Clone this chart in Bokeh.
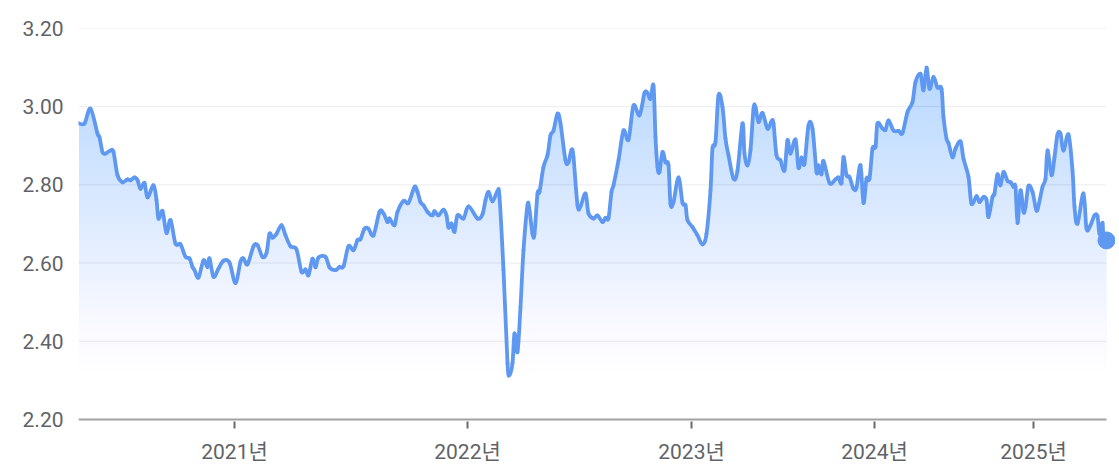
import numpy as np
from bokeh.plotting import figure
from bokeh.models import FixedTicker, Range1d, NumeralTickFormatter
from bokeh.embed import file_html
from bokeh.resources import INLINE

# observation index (trading sessions since start) and value
session = [0, 6, 12, 19, 21, 24, 27, 32, 35, 39, 44, 49, 52, 56, 59, 62, 66, 69, 75, 78,
           80, 84, 88, 92, 97, 102, 107, 111, 114, 116, 120, 125, 129, 131, 135, 140, 145, 151, 157, 162,
           165, 169, 175, 179, 184, 188, 191, 194, 198, 203, 207, 212, 218, 223, 227, 230, 234, 237, 240, 247,
           251, 257, 261, 265, 270, 275, 279, 282, 286, 290, 295, 301, 305, 309, 311, 316, 319, 325, 330, 336,
           339, 342, 345, 349, 354, 356, 360, 365, 368, 370, 373, 376, 379, 385, 390, 399, 404, 407, 410, 414,
           419, 421, 425, 429, 431, 434, 436, 439, 442, 445, 449, 451, 454, 456, 459, 461, 465, 469, 472, 475,
           479, 482, 487, 490, 493, 495, 499, 502, 507, 510, 515, 519, 524, 527, 530, 533, 535, 540, 545, 550,
           555, 561, 566, 569, 572, 575, 577, 579, 581, 584, 587, 590, 592, 595, 600, 604, 607, 609, 614, 619,
           624, 628, 632, 634, 637, 640, 644, 647, 650, 655, 659, 664, 666, 669, 672, 675, 677, 680, 684, 689,
           693, 695, 698, 702, 706, 709, 712, 717, 720, 723, 726, 730, 734, 738, 740, 743, 745, 751, 757, 760,
           763, 765, 768, 771, 775, 778, 782, 785, 788, 791, 794, 797, 799, 804, 807, 810, 815, 820, 824, 829,
           834, 837, 842, 845, 848, 851, 855, 859, 863, 865, 868, 870, 874, 877, 882, 885, 890, 893, 898, 901,
           905, 908, 910, 914, 916, 919, 922, 925, 929, 932, 935, 937, 939, 942, 945, 947, 950, 954, 957, 959,
           964, 967, 969, 973, 976, 979, 982, 985, 990, 994, 996, 999, 1005, 1008, 1012, 1016, 1019, 1021, 1024, 1025,
           1028]
value = [2.958, 2.957, 2.995, 2.931, 2.922, 2.884, 2.880, 2.888, 2.884, 2.825, 2.807, 2.814, 2.812, 2.819, 2.812, 2.790, 2.805, 2.768, 2.799, 2.761,
         2.714, 2.733, 2.677, 2.710, 2.650, 2.648, 2.616, 2.612, 2.590, 2.582, 2.563, 2.607, 2.590, 2.612, 2.565, 2.586, 2.606, 2.601, 2.549, 2.604,
         2.612, 2.597, 2.643, 2.646, 2.616, 2.626, 2.675, 2.665, 2.675, 2.697, 2.671, 2.643, 2.635, 2.578, 2.584, 2.569, 2.611, 2.589, 2.614, 2.616,
         2.589, 2.582, 2.590, 2.592, 2.643, 2.633, 2.659, 2.661, 2.688, 2.688, 2.671, 2.731, 2.727, 2.705, 2.714, 2.697, 2.731, 2.759, 2.754, 2.795,
         2.782, 2.756, 2.748, 2.731, 2.722, 2.733, 2.722, 2.737, 2.722, 2.691, 2.701, 2.680, 2.722, 2.714, 2.745, 2.714, 2.725, 2.761, 2.782, 2.758,
         2.784, 2.769, 2.582, 2.344, 2.314, 2.344, 2.420, 2.373, 2.488, 2.633, 2.748, 2.735, 2.675, 2.675, 2.778, 2.782, 2.846, 2.876, 2.927, 2.939,
         2.982, 2.957, 2.863, 2.858, 2.890, 2.871, 2.748, 2.745, 2.778, 2.727, 2.714, 2.722, 2.705, 2.716, 2.715, 2.782, 2.799, 2.863, 2.939, 2.916,
         3.003, 2.978, 3.035, 3.035, 3.020, 3.054, 2.922, 2.846, 2.833, 2.884, 2.858, 2.850, 2.752, 2.756, 2.819, 2.754, 2.748, 2.710, 2.692, 2.671,
         2.648, 2.675, 2.786, 2.893, 2.910, 3.029, 2.999, 2.918, 2.876, 2.816, 2.837, 2.957, 2.880, 2.850, 2.890, 2.995, 2.999, 2.961, 2.984, 2.944,
         2.963, 2.957, 2.876, 2.863, 2.837, 2.914, 2.880, 2.916, 2.844, 2.870, 2.854, 2.952, 2.944, 2.833, 2.850, 2.827, 2.861, 2.805, 2.814, 2.819,
         2.805, 2.871, 2.825, 2.820, 2.790, 2.793, 2.850, 2.754, 2.816, 2.816, 2.893, 2.897, 2.957, 2.944, 2.941, 2.965, 2.939, 2.938, 2.933, 2.986,
         3.012, 3.063, 3.084, 3.042, 3.100, 3.046, 3.076, 3.049, 3.046, 2.973, 2.918, 2.907, 2.871, 2.893, 2.911, 2.867, 2.820, 2.752, 2.771, 2.756,
         2.769, 2.762, 2.718, 2.769, 2.778, 2.827, 2.799, 2.833, 2.810, 2.807, 2.795, 2.795, 2.703, 2.786, 2.731, 2.744, 2.797, 2.782, 2.744, 2.737,
         2.795, 2.816, 2.888, 2.825, 2.871, 2.929, 2.931, 2.888, 2.929, 2.837, 2.744, 2.701, 2.778, 2.688, 2.697, 2.722, 2.720, 2.675, 2.703, 2.663,
         2.658]

year_ticks = [156, 389, 613, 796, 955]
year_labels = ["2021년", "2022년", "2023년", "2024년", "2025년"]
y_ticks = [2.2, 2.4, 2.6, 2.8, 3.0, 3.2]

LINE = "#5e98f1"
FONT = "Roboto, 'Noto Sans CJK KR', sans-serif"
LABEL = "#5f6368"

y0, y1 = y_ticks[0], y_ticks[-1]
pad = (y1 - y0) * 2 / 391.0   # let the frame reach 2px below the base line
p = figure(width=1115, height=466, output_backend="svg", toolbar_location=None,
           x_range=Range1d(0, 1037), y_range=Range1d(y0 - pad, y1),
           min_border_left=78, min_border_right=0, min_border_top=28, min_border_bottom=45)
p.outline_line_color = None
p.background_fill_color = "white"
p.border_fill_color = "white"

xs = np.array(session, dtype=float)
ys = np.array(value, dtype=float)

# horizontal grid lines spanning the data only
grid_vals = y_ticks[1:]
p.segment(x0=[xs[0]] * len(grid_vals), x1=[xs[-1]] * len(grid_vals), y0=grid_vals, y1=grid_vals,
          line_color="#ececec", line_width=1)

# gradient fill made of stacked translucent bands
levels = np.linspace(2.32, 3.10, 40)
targets = np.linspace(0.0, 0.36, 40)

def clipped(level):
    ox, oy = [], []
    for i in range(len(xs)):
        if i > 0:
            a, b = ys[i - 1] - level, ys[i] - level
            if a * b < 0:
                t = a / (a - b)
                ox.append(xs[i - 1] + t * (xs[i] - xs[i - 1]))
                oy.append(level)
        ox.append(xs[i])
        oy.append(max(ys[i], level))
    return ox, oy

prev = 0.0
for k in range(1, len(levels)):
    o = targets[k]
    alpha = 1 - (1 - o) / (1 - prev)
    prev = o
    lvl = levels[k - 1]
    cx, cy = clipped(lvl)
    p.varea(x=cx, y1=[lvl] * len(cx), y2=cy, fill_color=LINE, fill_alpha=alpha)

# smooth line through the points (Catmull-Rom rendered as cubic Beziers)
n = len(xs)
i = np.arange(n - 1)
im1 = np.clip(i - 1, 0, n - 1)
ip2 = np.clip(i + 2, 0, n - 1)
cx0 = xs[i] + (xs[i + 1] - xs[im1]) / 6.0
cy0 = ys[i] + (ys[i + 1] - ys[im1]) / 6.0
cx1 = xs[i + 1] - (xs[ip2] - xs[i]) / 6.0
cy1 = ys[i + 1] - (ys[ip2] - ys[i]) / 6.0
p.bezier(x0=xs[:-1], y0=ys[:-1], x1=xs[1:], y1=ys[1:], cx0=cx0, cy0=cy0, cx1=cx1, cy1=cy1,
         line_color=LINE, line_width=3.8, line_cap="round")
p.scatter([session[-1]], [value[-1]], size=17, fill_color=LINE, line_color=LINE)

# base line of the x axis
p.segment(x0=[xs[0]], x1=[xs[-1]], y0=[y0], y1=[y0], line_color="#a2a2a2", line_width=2)

# axes
p.xaxis.ticker = FixedTicker(ticks=year_ticks)
p.xaxis.major_label_overrides = {t: l for t, l in zip(year_ticks, year_labels)}
p.xaxis.axis_line_color = None
p.xaxis.major_tick_line_color = "#6b6b6b"
p.xaxis.major_tick_line_width = 2
p.xaxis.major_tick_out = 7
p.xaxis.major_tick_in = 0
p.xaxis.minor_tick_line_color = None
p.xaxis.major_label_standoff = 11
p.xaxis.major_label_text_font = FONT
p.xaxis.major_label_text_font_size = "21px"
p.xaxis.major_label_text_color = LABEL

p.yaxis.ticker = FixedTicker(ticks=y_ticks)
p.yaxis.formatter = NumeralTickFormatter(format="0.00")
p.yaxis.axis_line_color = None
p.yaxis.major_tick_line_color = None
p.yaxis.minor_tick_line_color = None
p.yaxis.major_tick_out = 0
p.yaxis.major_tick_in = 0
p.yaxis.major_label_standoff = 15
p.yaxis.major_label_text_font = FONT
p.yaxis.major_label_text_font_size = "21px"
p.yaxis.major_label_text_color = LABEL

p.xgrid.grid_line_color = None
p.ygrid.grid_line_color = None

open("out.html", "w").write(file_html(p, INLINE))
